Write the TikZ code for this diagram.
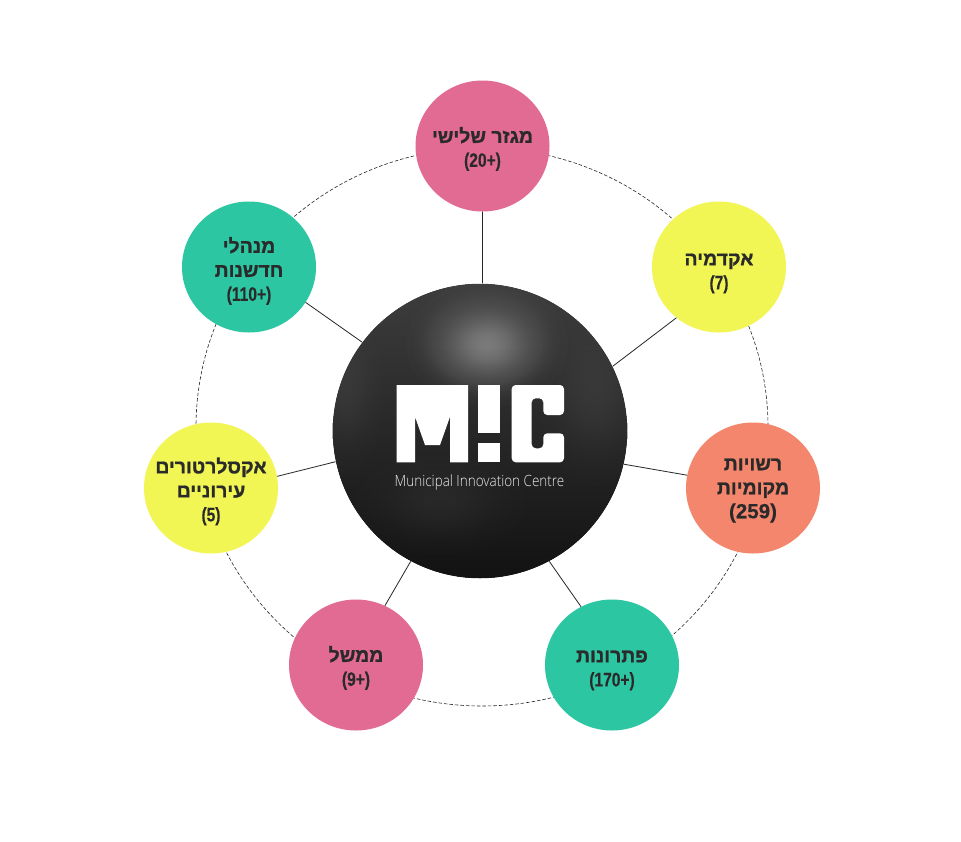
\documentclass[tikz,border=0pt]{standalone}
\usepackage{fontspec}
\usetikzlibrary{shapes.geometric}
\setmainfont{Liberation Sans}
\TeXXeTstate=1
\newfontfamily\hebfont[Script=Hebrew,FakeBold=1.1]{Liberation Sans Bold}
\newfontfamily\numfont[FakeStretch=0.8,FakeBold=0.3]{Liberation Sans Bold}
\newfontfamily\wdfont[FakeBold=0.2]{Liberation Sans Bold}
\newfontfamily\logofont[FakeStretch=0.87]{Open Sans Light}
\newcommand{\heb}[1]{{\hebfont\fontsize{19.4}{24}\selectfont\beginR #1\endR}}
\newcommand{\numtxt}[1]{{\numfont\fontsize{19.5}{24}\selectfont #1}}
% zero-size text block, so that the label never widens its circle
\newcommand{\lbl}[2]{\makebox[0pt][c]{\raisebox{#1pt}[0pt][0pt]{\parbox[c]{130pt}{\centering\fontsize{19}{24}\selectfont #2}}}}
% soft highlight: stacked translucent ellipses with a bell-shaped profile
\newcommand{\softglow}[7]{%
  \foreach \i in {1,...,#7}{%
    \pgfmathsetmacro{\k}{sqrt(-ln(\i/(#7+1)))}%
    \fill[#5,opacity=#6] (#1,#2) ellipse [x radius=#3*\k,y radius=#4*\k];
  }}
\definecolor{pinkc}{HTML}{E26B93}
\definecolor{greenc}{HTML}{2DC6A2}
\definecolor{yellowc}{HTML}{F1F655}
\definecolor{coralc}{HTML}{F5866E}
\definecolor{inkc}{HTML}{2A2A2A}
\definecolor{shinec}{HTML}{C4C4C4}
\tikzset{
  x=1pt,y=-1pt,
  hub/.style={ellipse,minimum width=134pt,minimum height=131pt,inner sep=0pt,
    text=inkc},
  spoke/.style={draw=black!85,line width=0.8pt},
  ring/.style={draw=black!85,line width=0.6pt,dash pattern=on 3.5pt off 2pt},
  logo/.style={fill=white,draw=none},
}
\begin{document}
\begin{tikzpicture}
\useasboundingbox (0,0) rectangle (961,841);
\fill[white] (0,0) rectangle (961,841);
\draw[ring] (482,427) ellipse [x radius=286,y radius=279];

% central sphere
\node[circle,minimum size=295pt,inner sep=0pt] (big) at (480,431) {};
\begin{scope}
\clip (480,431) circle [radius=147.5];
\shade[top color=black!76,bottom color=black!93] (330,283) rectangle (630,579);
\softglow{487}{345}{40}{31}{shinec}{0.015}{60}
\softglow{345}{395}{25}{50}{white}{0.009}{10}
\softglow{595}{400}{35}{55}{white}{0.008}{10}
\softglow{440}{505}{55}{32}{white}{0.008}{10}
\end{scope}
\draw[white,line width=1.5pt] (big.center) circle [radius=148.25];

% logo
\fill[logo] (396.7,385) -- (468,385) -- (468,462.3) -- (450,462.3) -- (450,416.7)
  -- (440,445) -- (425,445) -- (415,416.7) -- (415,462.3) -- (396.7,462.3) -- cycle;
\fill[logo] (478.3,385) rectangle (500,433.3);
\fill[logo] (478.3,442.7) rectangle (500,462.3);
\fill[logo,rounded corners=4pt]
  (511.7,385) -- (564,385) -- (564,415) -- (543.3,415) -- (543.3,398.3) -- (531.7,398.3)
  -- (531.7,448.3) -- (543.3,448.3) -- (543.3,433.3) -- (564,433.3) -- (564,462.3)
  -- (511.7,462.3) -- cycle;
\node[text=black!8,font=\logofont\fontsize{15.5}{16}\selectfont,inner sep=0pt] (tag) at (479.5,482) {Municipal Innovation Centre};

% outer nodes
\node[hub,fill=pinkc] (n1) at (482.5,146) {\lbl{-5.5}{\heb{מגזר שלישי}\\\numtxt{(20+)}}};
\node[hub,fill=yellowc] (n2) at (719,267) {\lbl{-9}{\heb{אקדמיה}\\\numtxt{(7)}}};
\node[hub,fill=coralc] (n3) at (753,488) {\lbl{-5}{\heb{רשויות}\\\heb{מקומיות}\\{\wdfont\fontsize{20.5}{24}\selectfont (259)}}};
\node[hub,fill=greenc] (n4) at (612,665) {\lbl{-8}{\heb{פתרונות}\\\numtxt{(170+)}}};
\node[hub,fill=pinkc] (n5) at (356,665) {\lbl{-5.5}{\heb{ממשל}\\\numtxt{(9+)}}};
\node[hub,fill=yellowc] (n6) at (211,488) {\lbl{-6}{\heb{אקסלרטורים}\\\heb{עירוניים}\\\numtxt{(5)}}};
\node[hub,fill=greenc] (n7) at (249,267) {\lbl{-6.5}{\heb{מנהלי}\\\heb{חדשנות}\\\numtxt{(110+)}}};

% connectors
\draw[spoke] (big.89) -- (n1.270);
\draw[spoke] (big.26) -- (n2.230.5);
\draw[spoke] (big.-13) -- (n3.169.7);
\draw[spoke] (big.-62.2) -- (n4.118);
\draw[spoke] (big.242.4) -- (n5.64.6);
\draw[spoke] (big.192.7) -- (n6.10.3);
\draw[spoke] (big.143.3) -- (n7.-32);
\end{tikzpicture}
\end{document}
